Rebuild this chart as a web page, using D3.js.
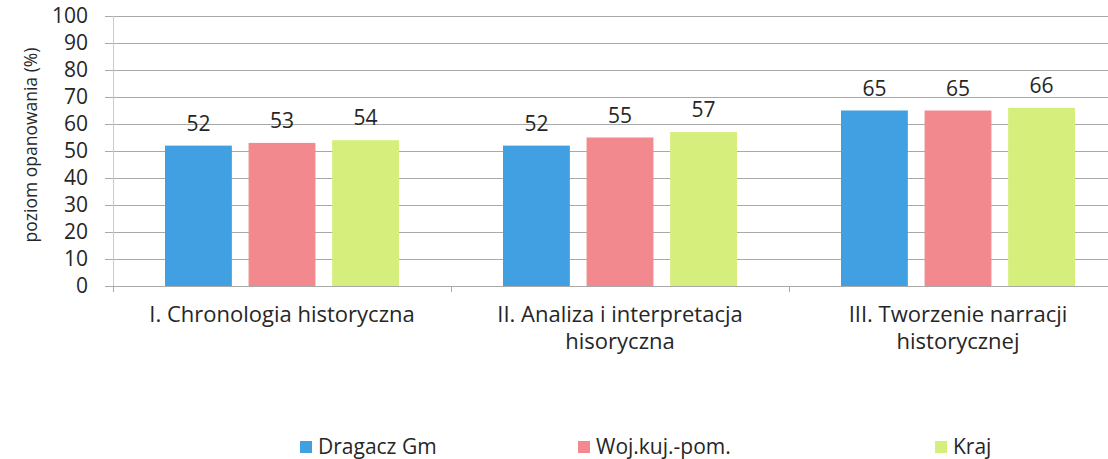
<!DOCTYPE html>
<html>
<head>
<meta charset="utf-8">
<script src="https://cdn.jsdelivr.net/npm/d3@7"></script>
<style>
  body { margin: 0; background: #fff; }
  text { font-family: "Open Sans", sans-serif; fill: #262626; }
</style>
</head>
<body>
<script>
// Data
var categories = [
  ["I. Chronologia historyczna"],
  ["II. Analiza i interpretacja", "hisoryczna"],
  ["III. Tworzenie narracji", "historycznej"]
];
var series = ["Dragacz Gm", "Woj.kuj.-pom.", "Kraj"];
var dragacz = [52, 52, 65];
var wojewodztwo = [53, 55, 65];
var kraj = [54, 57, 66];
var yTicks = [0, 10, 20, 30, 40, 50, 60, 70, 80, 90, 100];

var values = [dragacz, wojewodztwo, kraj];
var colors = ["#41a0e2", "#f2898e", "#d5ee7c"];

var width = 1108, height = 459;

var svg = d3.select("body").append("svg")
    .attr("width", width)
    .attr("height", height);

// Scales
var x = d3.scaleBand()
    .domain(d3.range(categories.length))
    .range([113, 1127])
    .padding(0);

var xSub = d3.scaleBand()
    .domain(d3.range(series.length))
    .range([52, 286])
    .paddingInner(0.2);

var y = d3.scaleLinear()
    .domain([0, 100])
    .range([286, 16]);

// Gridlines
svg.append("g")
    .selectAll("line")
    .data(yTicks)
    .enter().append("line")
    .attr("x1", 105)
    .attr("x2", width)
    .attr("y1", function (d) { return Math.round(y(d)) + 0.5; })
    .attr("y2", function (d) { return Math.round(y(d)) + 0.5; })
    .attr("stroke", "#a9a9a9")
    .attr("stroke-width", 1);

// Y axis line
svg.append("line")
    .attr("x1", 113.5).attr("x2", 113.5)
    .attr("y1", y(100)).attr("y2", y(0) + 6)
    .attr("stroke", "#c4d4a8");

// Y tick labels
var yAxis = d3.axisLeft(y)
    .tickValues(yTicks)
    .tickSize(0)
    .tickPadding(25);

svg.append("g")
    .attr("transform", "translate(113,0)")
    .call(yAxis)
    .call(function (g) { g.select(".domain").remove(); })
    .selectAll("text")
    .attr("font-size", "21px")
    .attr("font-family", "'Open Sans', sans-serif")
    .attr("fill", "#262626");

// Category separator ticks
svg.append("g")
    .selectAll("line")
    .data(d3.range(categories.length + 1))
    .enter().append("line")
    .attr("x1", function (d) { return 113 + d * x.bandwidth() + 0.5; })
    .attr("x2", function (d) { return 113 + d * x.bandwidth() + 0.5; })
    .attr("y1", y(0))
    .attr("y2", y(0) + 6)
    .attr("stroke", "#a9a9a9");

// Bars
var groups = svg.append("g")
    .selectAll("g")
    .data(categories)
    .enter().append("g")
    .attr("transform", function (d, i) { return "translate(" + x(i) + ",0)"; });

groups.selectAll("rect")
    .data(function (d, i) { return values.map(function (s, j) { return { s: j, v: s[i] }; }); })
    .enter().append("rect")
    .attr("x", function (d) { return xSub(d.s); })
    .attr("y", function (d) { return y(d.v); })
    .attr("width", xSub.bandwidth())
    .attr("height", function (d) { return y(0) - y(d.v); })
    .attr("fill", function (d) { return colors[d.s]; });

// Value labels
groups.selectAll("text.val")
    .data(function (d, i) { return values.map(function (s, j) { return { s: j, v: s[i] }; }); })
    .enter().append("text")
    .attr("class", "val")
    .attr("x", function (d) { return xSub(d.s) + xSub.bandwidth() / 2; })
    .attr("y", function (d) { return y(d.v) - 15; })
    .attr("text-anchor", "middle")
    .attr("font-size", "21px")
    .text(function (d) { return d.v; });

// Category labels
groups.append("text")
    .attr("text-anchor", "middle")
    .attr("font-size", "22px")
    .selectAll("tspan")
    .data(function (d) { return d; })
    .enter().append("tspan")
    .attr("x", x.bandwidth() / 2)
    .attr("y", function (d, i) { return 322 + i * 27; })
    .text(function (d) { return d; });

// Y axis title
svg.append("text")
    .attr("transform", "translate(37,145) rotate(-90)")
    .attr("text-anchor", "middle")
    .attr("font-size", "17.5px")
    .text("poziom opanowania (%)");

// Legend
var legendX = [300, 578, 935];
var legend = svg.append("g")
    .selectAll("g")
    .data(series)
    .enter().append("g")
    .attr("transform", function (d, i) { return "translate(" + legendX[i] + ",441)"; });

legend.append("rect")
    .attr("width", 12)
    .attr("height", 12)
    .attr("fill", function (d, i) { return colors[i]; });

legend.append("text")
    .attr("x", 18)
    .attr("y", 13)
    .attr("font-size", "21px")
    .text(function (d) { return d; });
</script>
</body>
</html>
